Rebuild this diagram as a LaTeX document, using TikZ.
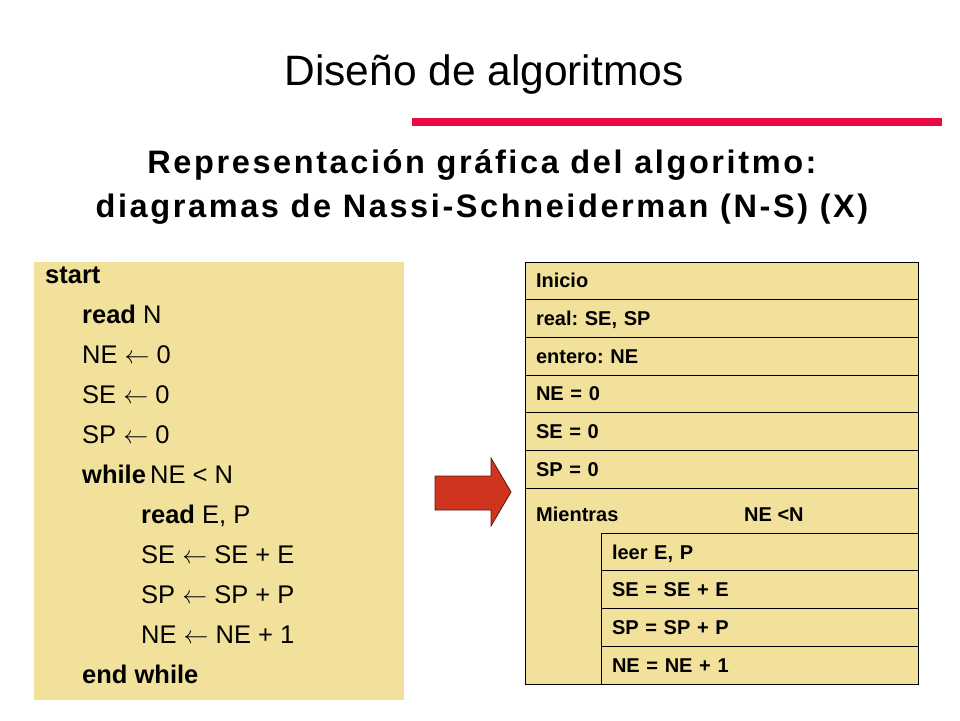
\documentclass[tikz,border=0pt]{standalone}
\usepackage{fontspec}
\setmainfont{Liberation Sans}
\newfontfamily\spacedfont[LetterSpace=8]{Liberation Sans}
\usetikzlibrary{positioning,calc}
\frenchspacing
\definecolor{nsyellow}{RGB}{241,225,154}
\definecolor{rulered}{RGB}{236,10,66}
\definecolor{arrowred}{RGB}{206,52,30}
\definecolor{arrowedge}{RGB}{90,22,10}
\tikzset{
  nsrow/.style={draw=black, fill=nsyellow, anchor=north west, line width=0.9pt,
    outer sep=0pt, minimum height=37.7pt, inner xsep=11pt, inner ysep=0pt,
    text width=371pt, align=left, text height=14pt, text depth=0pt,
    font=\fontsize{20}{23}\selectfont\bfseries},
  nsinner/.style={nsrow, text width=295pt},
  nslabel/.style={anchor=base west, inner sep=0pt, font=\fontsize{20}{23}\selectfont\bfseries},
  pseudo/.style={anchor=base west, inner sep=0pt, font=\fontsize{25.5}{30}\selectfont},
  subtitle/.style={anchor=base, inner sep=0pt, font=\fontsize{32.5}{38}\selectfont\spacedfont\bfseries}
}
\begin{document}
\begin{tikzpicture}[x=1pt, y=-1pt]
  \useasboundingbox (0,0) rectangle (960,720);

  % title and rule
  \node[anchor=base, inner sep=0pt, font=\fontsize{42.5}{50}\selectfont] (title) at (484,85) {Diseño de algoritmos};
  \fill[rulered] (412,118) rectangle (942,126);
  \node[subtitle] (sub1) at (482,173) {Representación gráfica del algoritmo:};
  \node[subtitle] (sub2) at (482,217) {diagramas de Nassi-Schneiderman (N-S) (X)};

  % pseudocode
  \fill[nsyellow] (34,262) rectangle (404,700);
  \node[pseudo] (start) at (45,283) {\textbf{start}};
  \node[pseudo] (readn) at (82,323) {\textbf{read} N};
  \node[pseudo] (ne) at (82,363) {NE $\leftarrow$ 0};
  \node[pseudo] (se) at (82,403) {SE $\leftarrow$ 0};
  \node[pseudo] (sp) at (82,443) {SP $\leftarrow$ 0};
  \node[pseudo] (while) at (82,483) {\textbf{while}\,NE < N};
  \node[pseudo] (readep) at (141,523) {\textbf{read} E, P};
  \node[pseudo] (seadd) at (141,563) {SE $\leftarrow$ SE + E};
  \node[pseudo] (spadd) at (141,603) {SP $\leftarrow$ SP + P};
  \node[pseudo] (neadd) at (141,643) {NE $\leftarrow$ NE + 1};
  \node[pseudo] (endwhile) at (82,683) {\textbf{end while}};

  % block arrow
  \draw[fill=arrowred, draw=arrowedge, line width=0.8pt]
    (435,476) -- (491,476) -- (491,458) -- (511,492) -- (491,526) -- (491,510) -- (435,510) -- cycle;

  % N-S diagram
  \node[nsrow] (inicio) at (525,262) {Inicio};
  \node[nsrow, below=0pt of inicio] (real) {real: SE, SP};
  \node[nsrow, below=0pt of real] (entero) {entero: NE};
  \node[nsrow, below=0pt of entero] (nezero) {NE = 0};
  \node[nsrow, below=0pt of nezero] (sezero) {SE = 0};
  \node[nsrow, below=0pt of sezero] (spzero) {SP = 0};
  \node[nsrow, below=0pt of spzero, minimum height=196pt, text height=0pt] (mientras) {};
  \node[nslabel] (mtxt) at ($(mientras.north west)+(11pt,-33pt)$) {Mientras};
  \node[nslabel] (cond) at ($(mientras.north west)+(219pt,-33pt)$) {NE <N};
  \node[nsinner, anchor=north east] (leer) at ($(mientras.north east)+(0pt,-45pt)$) {leer E, P};
  \node[nsinner, below=0pt of leer] (sesum) {SE = SE + E};
  \node[nsinner, below=0pt of sesum] (spsum) {SP = SP + P};
  \node[nsinner, below=0pt of spsum] (nesum) {NE = NE + 1};
\end{tikzpicture}
\end{document}
